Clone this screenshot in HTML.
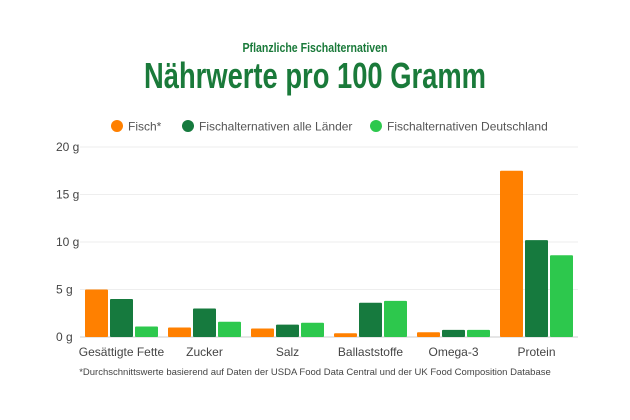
<!DOCTYPE html>
<html><head><meta charset="utf-8"><style>
html,body{margin:0;padding:0;background:#fff;width:630px;height:420px;overflow:hidden}
svg text{font-family:"Liberation Sans",sans-serif}
.cond{font-family:"Liberation Sans Narrow","Liberation Sans",sans-serif;font-weight:bold}
</style></head><body>
<svg width="630" height="420">
<text class="cond" x="315" y="52" text-anchor="middle" font-size="13" fill="#1a7a3a" textLength="145" lengthAdjust="spacingAndGlyphs">Pflanzliche Fischalternativen</text>
<text class="cond" x="315" y="88" text-anchor="middle" font-size="36" fill="#1a7a3a" textLength="342" lengthAdjust="spacingAndGlyphs">Nährwerte pro 100 Gramm</text>
<g id="legend"></g>
<g id="grid"></g><g id="bars"></g><g id="labels"></g>
<text x="315" y="375" text-anchor="middle" font-size="9.5" fill="#444">*Durchschnittswerte basierend auf Daten der USDA Food Data Central und der UK Food Composition Database</text>
</svg>
<script>
const categories=["Gesättigte Fette","Zucker","Salz","Ballaststoffe","Omega-3","Protein"];
const fisch=[5,1,0.9,0.4,0.5,17.5];
const alleLaender=[4,3,1.3,3.6,0.75,10.2];
const deutschland=[1.1,1.6,1.5,3.8,0.75,8.6];
const ticks=[0,5,10,15,20];
const seriesNames=["Fisch*","Fischalternativen alle Länder","Fischalternativen Deutschland"];
const colors=["#ff8000","#167a3e","#2dc84d"];
const series=[fisch,alleLaender,deutschland];
const NS="http://www.w3.org/2000/svg";
const x0=80,x1=578,yTop=147,yBot=337,yMax=20;
const y=v=>yBot-(v/yMax)*(yBot-yTop);
const gw=(x1-x0)/categories.length, bw=23, gap=2;
function mk(t,a,p){const e=document.createElementNS(NS,t);for(const k in a)e.setAttribute(k,a[k]);p.appendChild(e);return e;}
const grid=document.getElementById('grid');
ticks.forEach(t=>{
 const l=mk('line',{x1:x0,x2:x1,y1:y(t),y2:y(t),stroke:t===0?'#ccc':'#eee','stroke-width':1},grid);
 
 
 const tx=mk('text',{x:56,y:y(t)+4,'font-size':12,fill:'#444'},grid);tx.textContent=t+' g';
 
 
});
const bars=document.getElementById('bars'),labels=document.getElementById('labels');
categories.forEach((c,i)=>{
 const gx=x0+i*gw+(gw-(3*bw+2*gap))/2;
 series.forEach((s,j)=>{
  const r=mk('rect',{x:gx+j*(bw+gap),y:y(s[i]),width:bw,height:yBot-y(s[i]),fill:colors[j],rx:1},bars);
  
  
 });
 const t=mk('text',{x:x0+i*gw+gw/2,y:356,'text-anchor':'middle','font-size':12,fill:'#444'},labels);t.textContent=c;
 
 
});
const leg=document.getElementById('legend');
const lx=[117,188,376];
seriesNames.forEach((n,j)=>{
 const c=mk('circle',{cx:lx[j],cy:126,r:6,fill:colors[j]},leg);
 
 
 const t=mk('text',{x:lx[j]+11,y:130.5,'font-size':12,fill:'#555'},leg);t.textContent=n;
 
 
});
</script>
</body></html>
